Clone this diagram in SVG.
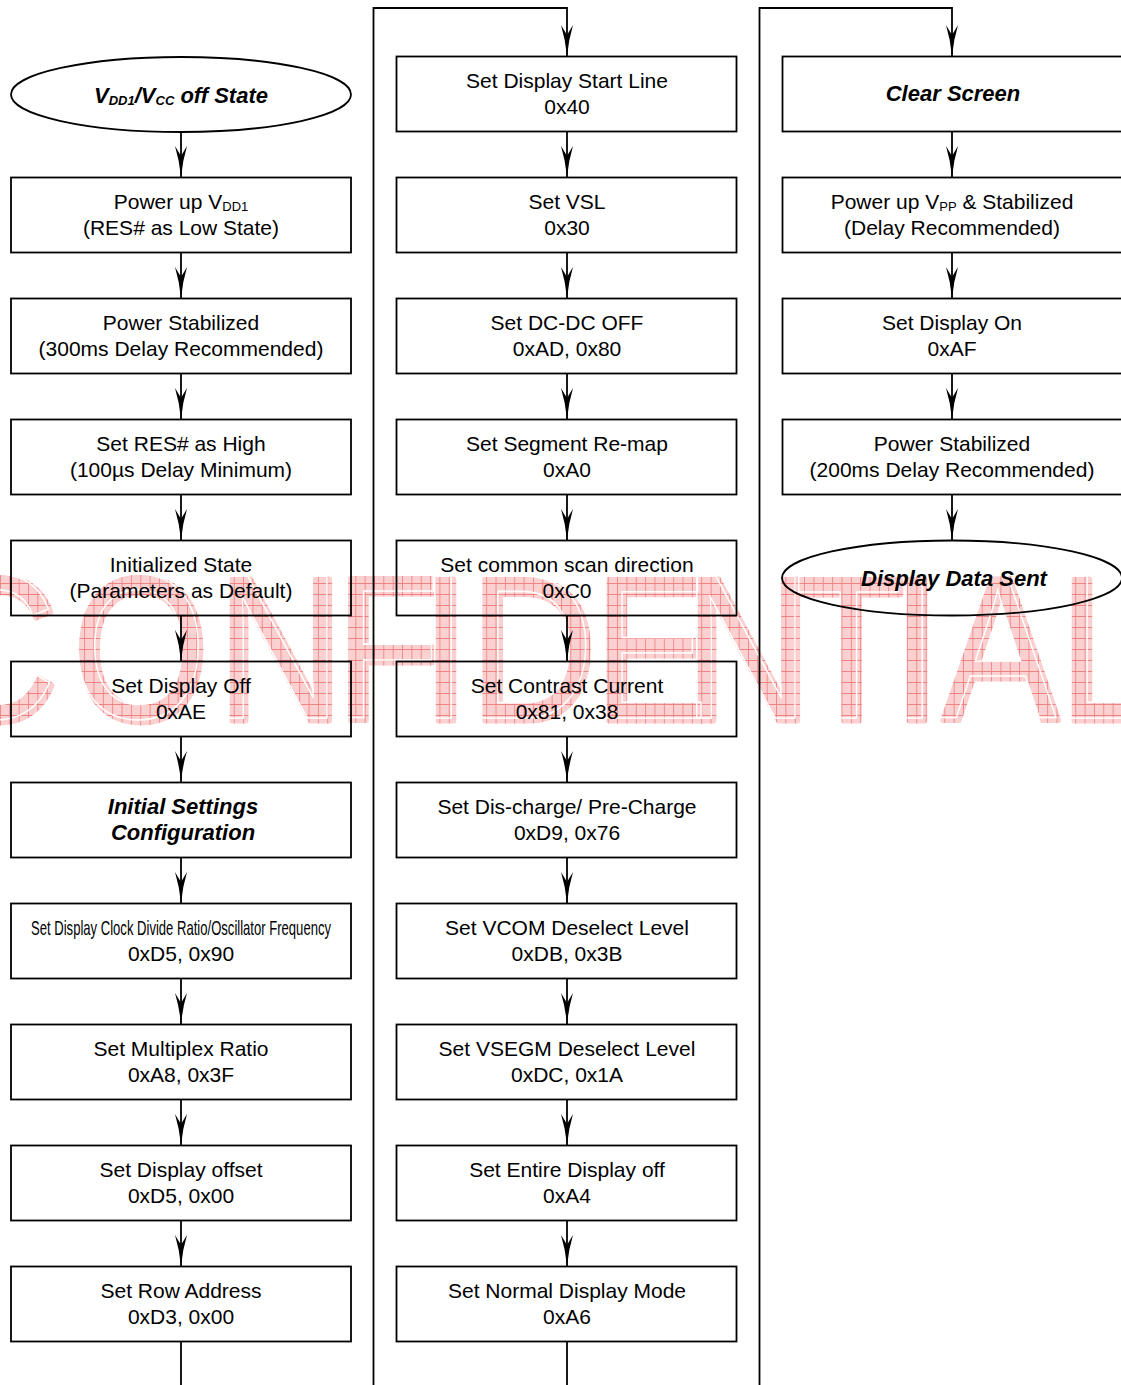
<svg xmlns="http://www.w3.org/2000/svg" xmlns:xlink="http://www.w3.org/1999/xlink" width="1121" height="1385" viewBox="0 0 1121 1385">
<style>
.box{fill:none;stroke:#000;stroke-width:1.8}
.t{font-family:"Liberation Sans",Arial,sans-serif;font-size:21px;text-anchor:middle;fill:#000}
.b{font-weight:bold;font-style:italic;font-size:22px}
.sub{font-size:13px}
.wire{fill:none;stroke:#000;stroke-width:1.8}
.arr{marker-end:url(#ah)}
.wm{font-family:"Liberation Sans",Arial,sans-serif;font-size:207px}
</style>
<defs>
<pattern id="grid" patternUnits="userSpaceOnUse" width="11" height="11">
<rect width="11" height="11" fill="#fbd0d0"/>
<path d="M0,0.5H11M0.5,0V11" stroke="#ee8080" stroke-width="1" fill="none"/>
</pattern>
<marker id="ah" markerUnits="userSpaceOnUse" markerWidth="32" markerHeight="14" viewBox="0 -7 32 14" refX="31" refY="0" orient="auto">
<path d="M31,0Q15,-1.5 0,-6L10,0L0,6Q15,1.5 31,0Z" fill="#000"/>
</marker>
</defs>
<rect width="1121" height="1385" fill="#fff"/>
<g id="watermark">
<g fill="url(#grid)" stroke="url(#grid)" stroke-width="5" stroke-linejoin="round">
<text id="wm" class="wm" transform="scale(0.85,1)" x="-80 85.7 255.5 395 496 553.1 699.1 806.1 938.4 1050.1 1108.3 1246.2" y="721">CONFIDENTIAL</text>
</g>
<use xlink:href="#wm" href="#wm" fill="none" stroke="#fff" stroke-width="1.6" transform="translate(-3,-3)"/>
</g>
<g id="connectors">
<path class="wire arr" d="M181,132V177"/>
<path class="wire arr" d="M181,252V298"/>
<path class="wire arr" d="M181,373V419"/>
<path class="wire arr" d="M181,494V540"/>
<path class="wire arr" d="M181,615V661"/>
<path class="wire arr" d="M181,736V782"/>
<path class="wire arr" d="M181,857V903"/>
<path class="wire arr" d="M181,978V1024"/>
<path class="wire arr" d="M181,1099V1145"/>
<path class="wire arr" d="M181,1220V1266"/>
<path class="wire" d="M181,1341V1385"/>
<path class="wire arr" d="M373.5,1385V8H567V56"/>
<path class="wire arr" d="M567,131V177"/>
<path class="wire arr" d="M567,252V298"/>
<path class="wire arr" d="M567,373V419"/>
<path class="wire arr" d="M567,494V540"/>
<path class="wire arr" d="M567,615V661"/>
<path class="wire arr" d="M567,736V782"/>
<path class="wire arr" d="M567,857V903"/>
<path class="wire arr" d="M567,978V1024"/>
<path class="wire arr" d="M567,1099V1145"/>
<path class="wire arr" d="M567,1220V1266"/>
<path class="wire" d="M567,1341V1385"/>
<path class="wire arr" d="M759.5,1385V8H952V56"/>
<path class="wire arr" d="M952,131V177"/>
<path class="wire arr" d="M952,252V298"/>
<path class="wire arr" d="M952,373V419"/>
<path class="wire arr" d="M952,494V540"/>
</g>
<g id="c1n0"><ellipse class="box" cx="181" cy="94.5" rx="170" ry="37.5"/><text class="t b" x="181" y="102.5">V<tspan class="sub" dy="2">DD1</tspan><tspan dy="-2">/V</tspan><tspan class="sub" dy="2">CC</tspan><tspan dy="-2"> off State</tspan></text></g>
<g id="c1n1"><rect class="box" x="11" y="177.5" width="340" height="75"/><text class="t" x="181" y="208.5">Power up V<tspan class="sub" dy="2">DD1</tspan></text><text class="t" x="181" y="235">(RES# as Low State)</text></g>
<g id="c1n2"><rect class="box" x="11" y="298.5" width="340" height="75"/><text class="t" x="181" y="329.5">Power Stabilized</text><text class="t" x="181" y="356">(300ms Delay Recommended)</text></g>
<g id="c1n3"><rect class="box" x="11" y="419.5" width="340" height="75"/><text class="t" x="181" y="450.5">Set RES# as High</text><text class="t" x="181" y="477">(100µs Delay Minimum)</text></g>
<g id="c1n4"><rect class="box" x="11" y="540.5" width="340" height="75"/><text class="t" x="181" y="571.5">Initialized State</text><text class="t" x="181" y="598">(Parameters as Default)</text></g>
<g id="c1n5"><rect class="box" x="11" y="661.5" width="340" height="75"/><text class="t" x="181" y="692.5">Set Display Off</text><text class="t" x="181" y="719">0xAE</text></g>
<g id="c1n6"><rect class="box" x="11" y="782.5" width="340" height="75"/><text class="t b" x="183" y="813.5">Initial Settings</text><text class="t b" x="183" y="840">Configuration</text></g>
<g id="c1n7"><rect class="box" x="11" y="903.5" width="340" height="75"/><text class="t" x="181" y="935" style="font-family:'Liberation Sans Narrow','Liberation Sans',Arial,sans-serif;font-size:21px" textLength="300" lengthAdjust="spacingAndGlyphs">Set Display Clock Divide Ratio/Oscillator Frequency</text><text class="t" x="181" y="961">0xD5, 0x90</text></g>
<g id="c1n8"><rect class="box" x="11" y="1024.5" width="340" height="75"/><text class="t" x="181" y="1055.5">Set Multiplex Ratio</text><text class="t" x="181" y="1082">0xA8, 0x3F</text></g>
<g id="c1n9"><rect class="box" x="11" y="1145.5" width="340" height="75"/><text class="t" x="181" y="1176.5">Set Display offset</text><text class="t" x="181" y="1203">0xD5, 0x00</text></g>
<g id="c1n10"><rect class="box" x="11" y="1266.5" width="340" height="75"/><text class="t" x="181" y="1297.5">Set Row Address</text><text class="t" x="181" y="1324">0xD3, 0x00</text></g>
<g id="c2n0"><rect class="box" x="396.5" y="56.5" width="340" height="75"/><text class="t" x="567" y="87.5">Set Display Start Line</text><text class="t" x="567" y="114">0x40</text></g>
<g id="c2n1"><rect class="box" x="396.5" y="177.5" width="340" height="75"/><text class="t" x="567" y="208.5">Set VSL</text><text class="t" x="567" y="235">0x30</text></g>
<g id="c2n2"><rect class="box" x="396.5" y="298.5" width="340" height="75"/><text class="t" x="567" y="329.5">Set DC-DC OFF</text><text class="t" x="567" y="356">0xAD, 0x80</text></g>
<g id="c2n3"><rect class="box" x="396.5" y="419.5" width="340" height="75"/><text class="t" x="567" y="450.5">Set Segment Re-map</text><text class="t" x="567" y="477">0xA0</text></g>
<g id="c2n4"><rect class="box" x="396.5" y="540.5" width="340" height="75"/><text class="t" x="567" y="571.5">Set common scan direction</text><text class="t" x="567" y="598">0xC0</text></g>
<g id="c2n5"><rect class="box" x="396.5" y="661.5" width="340" height="75"/><text class="t" x="567" y="692.5">Set Contrast Current</text><text class="t" x="567" y="719">0x81, 0x38</text></g>
<g id="c2n6"><rect class="box" x="396.5" y="782.5" width="340" height="75"/><text class="t" x="567" y="813.5">Set Dis-charge/ Pre-Charge</text><text class="t" x="567" y="840">0xD9, 0x76</text></g>
<g id="c2n7"><rect class="box" x="396.5" y="903.5" width="340" height="75"/><text class="t" x="567" y="934.5">Set VCOM Deselect Level</text><text class="t" x="567" y="961">0xDB, 0x3B</text></g>
<g id="c2n8"><rect class="box" x="396.5" y="1024.5" width="340" height="75"/><text class="t" x="567" y="1055.5">Set VSEGM Deselect Level</text><text class="t" x="567" y="1082">0xDC, 0x1A</text></g>
<g id="c2n9"><rect class="box" x="396.5" y="1145.5" width="340" height="75"/><text class="t" x="567" y="1176.5">Set Entire Display off</text><text class="t" x="567" y="1203">0xA4</text></g>
<g id="c2n10"><rect class="box" x="396.5" y="1266.5" width="340" height="75"/><text class="t" x="567" y="1297.5">Set Normal Display Mode</text><text class="t" x="567" y="1324">0xA6</text></g>
<g id="c3n0"><rect class="box" x="782.5" y="56.5" width="342" height="75"/><text class="t b" x="953" y="101">Clear Screen</text></g>
<g id="c3n1"><rect class="box" x="782.5" y="177.5" width="342" height="75"/><text class="t" x="952" y="208.5">Power up V<tspan class="sub" dy="2">PP</tspan><tspan dy="-2"> &amp; Stabilized</tspan></text><text class="t" x="952" y="235">(Delay Recommended)</text></g>
<g id="c3n2"><rect class="box" x="782.5" y="298.5" width="342" height="75"/><text class="t" x="952" y="329.5">Set Display On</text><text class="t" x="952" y="356">0xAF</text></g>
<g id="c3n3"><rect class="box" x="782.5" y="419.5" width="342" height="75"/><text class="t" x="952" y="450.5">Power Stabilized</text><text class="t" x="952" y="477">(200ms Delay Recommended)</text></g>
<g id="c3n4"><ellipse class="box" cx="952" cy="578" rx="170" ry="37.5"/><text class="t b" x="954" y="585.5">Display Data Sent</text></g>
</svg>
